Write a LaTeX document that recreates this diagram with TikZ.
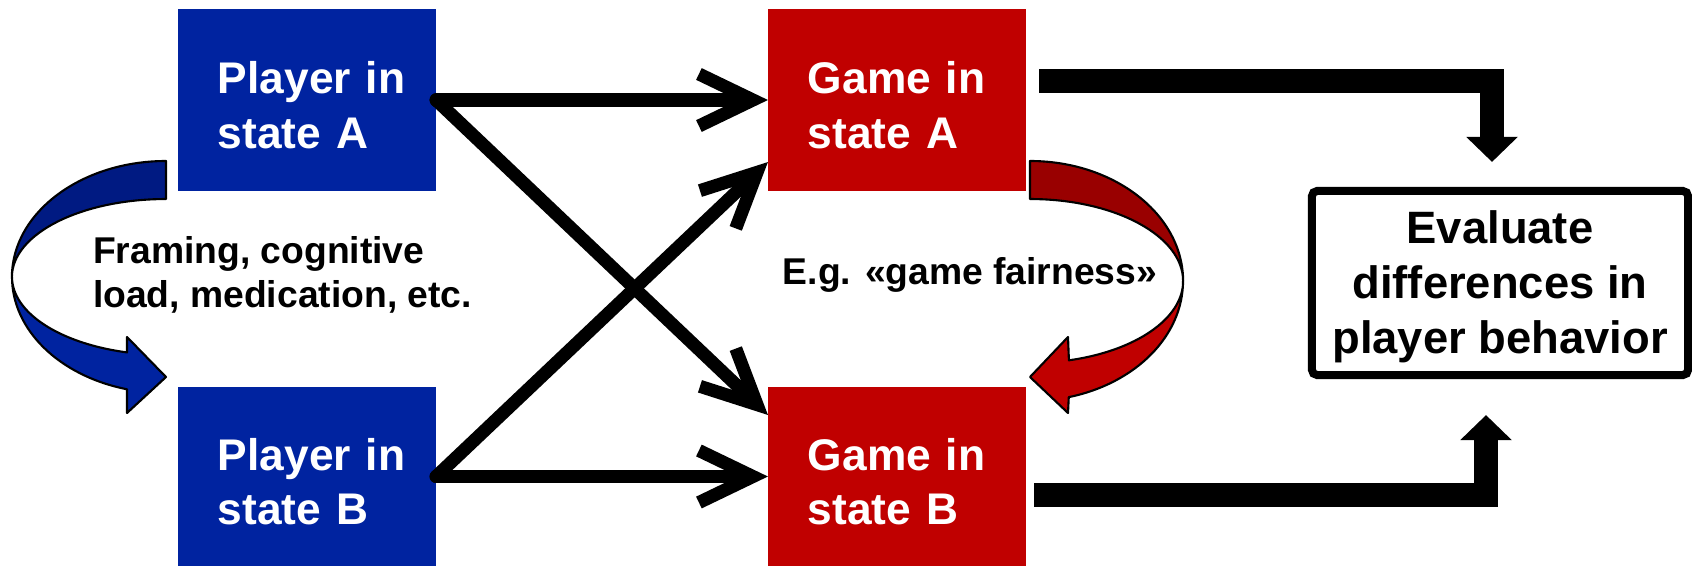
\documentclass[tikz,border=0pt]{standalone}
\usepackage{fontspec}
\setmainfont{Liberation Sans}
\usetikzlibrary{arrows.meta}

\definecolor{playerblue}{RGB}{0,35,160}
\definecolor{playerblueback}{RGB}{0,26,130}
\definecolor{gamered}{RGB}{192,0,0}
\definecolor{gameredback}{RGB}{153,0,0}

% invisible struts that give a text block the font's full ascent
\newcommand{\ascpad}{\rule{0pt}{0.905em}}
\newcommand{\boxpad}{\rule{0pt}{0.95em}}

\begin{document}
\begin{tikzpicture}[x=0.01cm, y=0.01cm,
  every node/.style={outer sep=0pt},
  statebox/.style={minimum width=2.58cm, inner xsep=0.40cm, inner ysep=0pt,
    text width=1.78cm, text=white, align=left,
    font=\fontsize{12.6}{15.5}\selectfont\bfseries},
  playerbox/.style={statebox, fill=playerblue},
  gamebox/.style={statebox, fill=gamered},
  evalbox/.style={draw=black, line width=0.08cm, rounded corners=1.5pt,
    minimum width=3.76cm, minimum height=1.84cm, inner sep=0pt, align=center,
    font=\fontsize{12.9}{15.6}\selectfont\bfseries},
  note/.style={inner sep=0pt, align=left, font=\fontsize{10.6}{12.6}\selectfont\bfseries},
  flow/.style={line width=0.13cm, line cap=round,
    -{Straight Barb[length=0.54cm, width=0.52cm]}},
  bigflow/.style={line width=0.24cm, line join=miter,
    -{Triangle[length=0.25cm, width=0.5cm]}},
  swirl/.style={draw=black, line width=0.6pt, line join=round}
]
\useasboundingbox (0,0) rectangle (1692,566);

% state boxes
\node[playerbox, minimum height=1.82cm] (pA) at (307,466) {\boxpad Player~in\\state~A};
\node[playerbox, minimum height=1.79cm] (pB) at (307,89.5) {\boxpad Player~in\\state~B};
\node[gamebox, minimum height=1.82cm] (gA) at (897,466) {\boxpad Game~in\\state~A};
\node[gamebox, minimum height=1.79cm] (gB) at (897,89.5) {\boxpad Game~in\\state~B};
\node[evalbox] (ev) at (1500,283) {\ascpad Evaluate\\differences in\\player behavior};

% side notes
\node[note, anchor=west] (framing) at (93,291) {Framing, cognitive\\load, medication, etc.};
\node[note, anchor=base] (fair) at (970,282) {E.g. «game fairness»};

% twisted arrow on the player side
\fill[playerblueback, swirl] (166,405)
  arc[start angle=90, end angle=180, x radius=1.54cm, y radius=1.16cm]
  arc[start angle=180, end angle=90, x radius=1.54cm, y radius=0.78cm] -- cycle;
\fill[playerblue, swirl] (12,289)
  arc[start angle=180, end angle=255.3, x radius=1.54cm, y radius=1.16cm]
  -- (127,153) -- (166,189) -- (127,229) -- (127,213.6)
  arc[start angle=255.3, end angle=180, x radius=1.54cm, y radius=0.78cm] -- cycle;

% twisted arrow on the game side
\fill[gameredback, swirl] (1030,405)
  arc[start angle=90, end angle=0, x radius=1.53cm, y radius=1.20cm]
  arc[start angle=0, end angle=90, x radius=1.53cm, y radius=0.82cm] -- cycle;
\fill[gamered, swirl] (1183,285)
  arc[start angle=0, end angle=-75.3, x radius=1.53cm, y radius=1.20cm]
  -- (1068,153) -- (1030,189) -- (1068,229) -- (1068.9,205.7)
  arc[start angle=-75.3, end angle=0, x radius=1.53cm, y radius=0.82cm] -- cycle;

% player-to-game connectors
\draw[flow] (pA.east) -- (gA.west);
\draw[flow] (pA.east) -- ([yshift=-0.28cm]gB.north west);
\draw[flow] (pB.east) -- ([yshift=0.29cm]gA.south west);
\draw[flow] (pB.east) -- (gB.west);

% game-to-evaluation connectors
\draw[bigflow] ([xshift=0.13cm, yshift=0.19cm]gA.east) -| ([xshift=-0.08cm, yshift=0.29cm]ev.north);
\draw[bigflow] ([xshift=0.08cm, yshift=-0.185cm]gB.east) -| ([xshift=-0.14cm, yshift=-0.40cm]ev.south);
\end{tikzpicture}
\end{document}
